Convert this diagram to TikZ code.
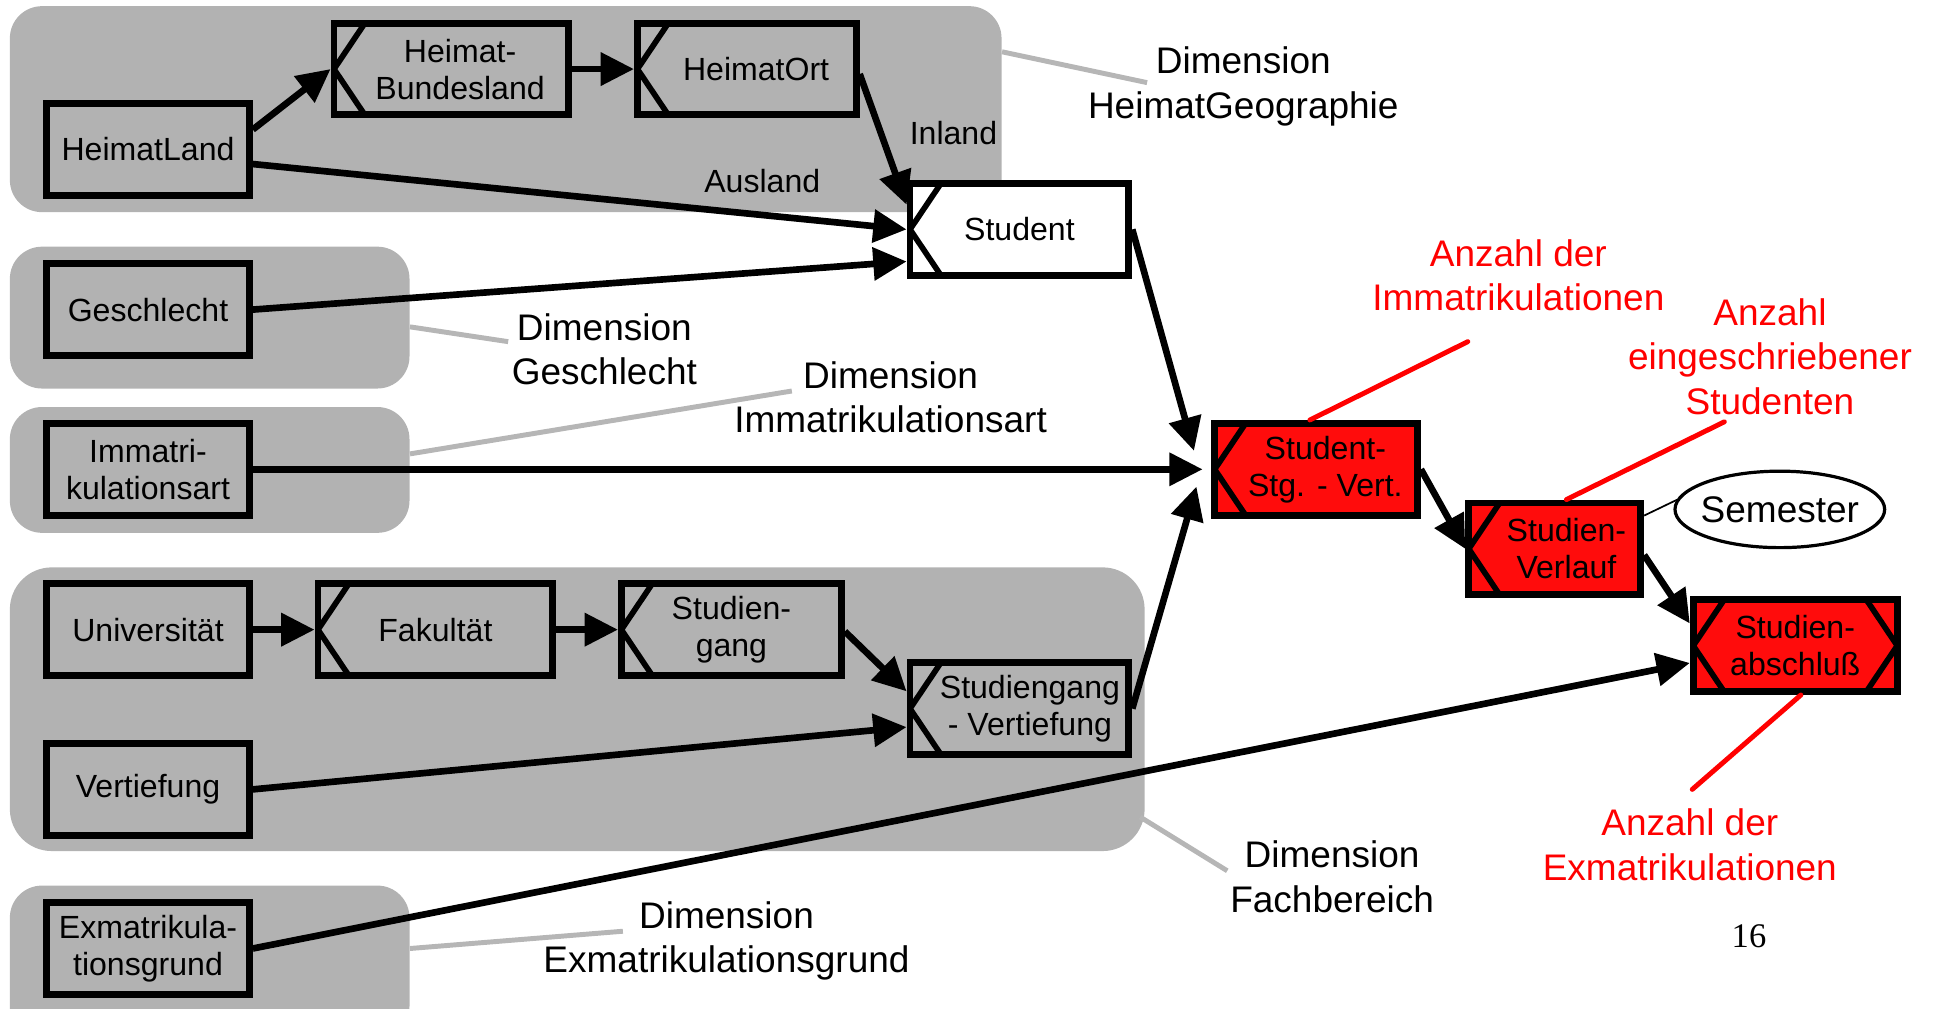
\documentclass[tikz,border=0pt]{standalone}
\usepackage{fontspec}
\setmainfont{Liberation Sans}
\newfontfamily\pagenumfont{Liberation Serif}
\usetikzlibrary{arrows.meta,shapes.geometric,calc}
\definecolor{regiongrey}{RGB}{178,178,178}
\definecolor{leadgrey}{RGB}{182,182,182}
\definecolor{boxred}{RGB}{255,12,12}
\definecolor{textred}{RGB}{255,0,0}
\newcommand\boxfont{\fontsize{13}{15}\selectfont}
\newcommand\lblfont{\fontsize{15}{18}\selectfont}
% left padding of a centred line, moving it right by half the amount
\newcommand\lpad[1]{\hspace*{#1}}
\tikzset{
  region/.style={fill=regiongrey, rounded corners=13pt, inner sep=0pt},
  box/.style={draw, line width=2.8pt, fill=regiongrey, inner sep=0pt, align=center,
    font=\boxfont, minimum width=82.2pt, minimum height=37.2pt},
  notched/.style={box, path picture={
    \draw[line width=2.3pt]
      ([xshift=12.5pt]path picture bounding box.north west) --
      (path picture bounding box.west) --
      ([xshift=12.5pt]path picture bounding box.south west);}},
  rnotched/.style={path picture={
    \draw[line width=2.3pt]
      ([xshift=12.5pt]path picture bounding box.north west) --
      (path picture bounding box.west) --
      ([xshift=12.5pt]path picture bounding box.south west);
    \draw[line width=2.3pt]
      ([xshift=-12.5pt]path picture bounding box.north east) --
      (path picture bounding box.east) --
      ([xshift=-12.5pt]path picture bounding box.south east);}},
  fact/.style={fill=boxred},
  conn/.style={line width=2.7pt, -{Triangle[length=13.5pt,width=13pt]}},
  leadline/.style={line width=2pt, draw=leadgrey},
  redlead/.style={line width=2pt, draw=textred, line cap=round},
  dimlabel/.style={font=\lblfont, align=center, inner sep=0pt},
  redlabel/.style={dimlabel, text=textred},
  edgelabel/.style={font=\boxfont, inner sep=0pt},
}
\begin{document}
\begin{tikzpicture}[x=0.5pt,y=-0.5pt]
\useasboundingbox (0,0) rectangle (1568,818);

% dimension regions
\node[region, minimum width=402pt, minimum height=83.5pt] (gA) at (410,88.5) {};
\node[region, minimum width=162pt, minimum height=57.5pt] (gB) at (170,257.5) {};
\node[region, minimum width=162pt, minimum height=51pt] (gC) at (170,381) {};
\node[region, rounded corners=17pt, minimum width=460pt, minimum height=115pt] (gD) at (468,575) {};
\node[region, minimum width=162pt, minimum height=62pt] (gE) at (170,780) {};

% dimension labels and their leader lines
\node[dimlabel] (lA) at (1008,70) {Dimension\\HeimatGeographie};
\node[dimlabel] (lB) at (490,283) {Dimension\\Geschlecht};
\node[dimlabel] (lC) at (722,322) {Dimension\\Immatrikulationsart};
\node[dimlabel] (lD) at (1080,711) {Dimension\\Fachbereich};
\node[dimlabel] (lE) at (589,763) {Dimension\\Exmatrikulationsgrund};
\coordinate (eA) at (930,67);
\coordinate (eB) at (412,277);
\coordinate (eC) at (642,317);
\coordinate (eD) at (995,706);
\coordinate (eE) at (505,755);
\draw[leadline] ([yshift=23.25pt]gA.east) -- (eA);
\draw[leadline] ([yshift=-3.75pt]gB.east) -- (eB);
\draw[leadline] ([yshift=6.5pt]gC.east) -- (eC);
\draw[leadline] ([xshift=-2pt,yshift=14pt]gD.south east) -- (eD);
\draw[leadline] ([yshift=5.5pt]gE.east) -- (eE);

% dimension levels
\node[box] (hl) at (120,121) {HeimatLand};
\node[notched, minimum width=95.2pt] (hb) at (366,56) {\lpad{7pt}Heimat-\\\lpad{7pt}Bundesland};
\node[notched, minimum width=88.7pt] (ho) at (605.5,56) {\lpad{7.5pt}HeimatOrt};
\node[notched, fill=white, minimum width=88.7pt] (st) at (826.5,186) {Student};
\node[box] (gs) at (120,251) {Geschlecht};
\node[box] (ia) at (120,380.5) {Immatri-\\kulationsart};
\node[box] (un) at (120,510.5) {Universität};
\node[notched, minimum width=95.2pt] (fk) at (353,510.5) {Fakultät};
\node[notched, minimum width=89.2pt] (sg) at (593,510.5) {Studien-\\gang};
\node[notched, minimum width=88.7pt] (sv) at (826.5,574.5) {\lpad{8.5pt}Studiengang\\\lpad{8.5pt}- Vertiefung};
\node[box] (vt) at (120,640) {Vertiefung};
\node[box] (ex) at (120,769) {Exmatrikula-\\tionsgrund};

% fact levels
\node[notched, fact] (ssv) at (1067,380.5) {\lpad{7.5pt}Student-\\\lpad{7.5pt}Stg. - Vert.};
\node[notched, fact, minimum width=69.7pt] (svl) at (1260.5,445) {\lpad{9.5pt}Studien-\\\lpad{9.5pt}Verlauf};
\node[notched, rnotched, fact, minimum width=82.7pt] (sa) at (1455.5,523.5) {Studien-\\abschluß};
\coordinate (semc) at (1443,413);
\draw[line width=1.3pt, fill=white] (semc) ellipse [x radius=85, y radius=31];
\node[font=\lblfont, inner sep=0pt] (sem) at (semc) {Semester};
\coordinate (semtip) at (1360,405);
\draw[line width=0.7pt] ([yshift=13.5pt]svl.east) -- (semtip);

% measures
\node[redlabel] (mI) at (1231,223) {Anzahl der\\Immatrikulationen};
\node[redlabel] (mS) at (1435,289) {Anzahl\\eingeschriebener\\Studenten};
\node[redlabel] (mE) at (1370,685) {Anzahl der\\Exmatrikulationen};
\coordinate (rI) at (1190,277);
\coordinate (rS) at (1398,342);
\coordinate (rE) at (1372,640);
\draw[redlead] ([xshift=-2.5pt]ssv.north) -- (rI);
\draw[redlead] ([xshift=4.75pt]svl.north) -- (rS);
\draw[redlead] ([xshift=2.25pt]sa.south) -- (rE);

% roll-up connectors
\draw[conn] ([yshift=8pt]hl.east) -- (hb.west);
\draw[conn] (hb.east) -- (ho.west);
\draw[conn] ([yshift=-2pt]ho.east) -- ([yshift=10pt]st.west);
\draw[conn] ([yshift=-6pt]hl.east) -- (st.west);
\draw[conn] (gs.east) -- ([yshift=-13pt]st.west);
\draw[conn] (st.east) -- ([xshift=-7pt,yshift=7.5pt]ssv.west);
\draw[conn] (ia.east) -- ([xshift=-3.5pt]ssv.west);
\draw[conn] (sv.east) -- ([xshift=-6pt,yshift=-7pt]ssv.west);
\draw[conn] (un.east) -- (fk.west);
\draw[conn] (fk.east) -- (sg.west);
\draw[conn] ([yshift=-0.75pt]sg.east) -- ([yshift=7pt]sv.west);
\draw[conn] (vt.east) -- ([yshift=-7.5pt]sv.west);
\draw[conn] (ex.east) -- ([yshift=-7pt]sa.west);
\draw[conn] (ssv.east) -- (svl.west);
\draw[conn] ([yshift=-2.5pt]svl.east) -- ([yshift=9pt]sa.west);

\node[edgelabel] (inl) at (773,108) {Inland};
\node[edgelabel] (ausl) at (618,147) {Ausland};

\node[font=\pagenumfont\fontsize{14}{16}\selectfont, inner sep=0pt] (pg) at (1418,759) {16};
\end{tikzpicture}
\end{document}
